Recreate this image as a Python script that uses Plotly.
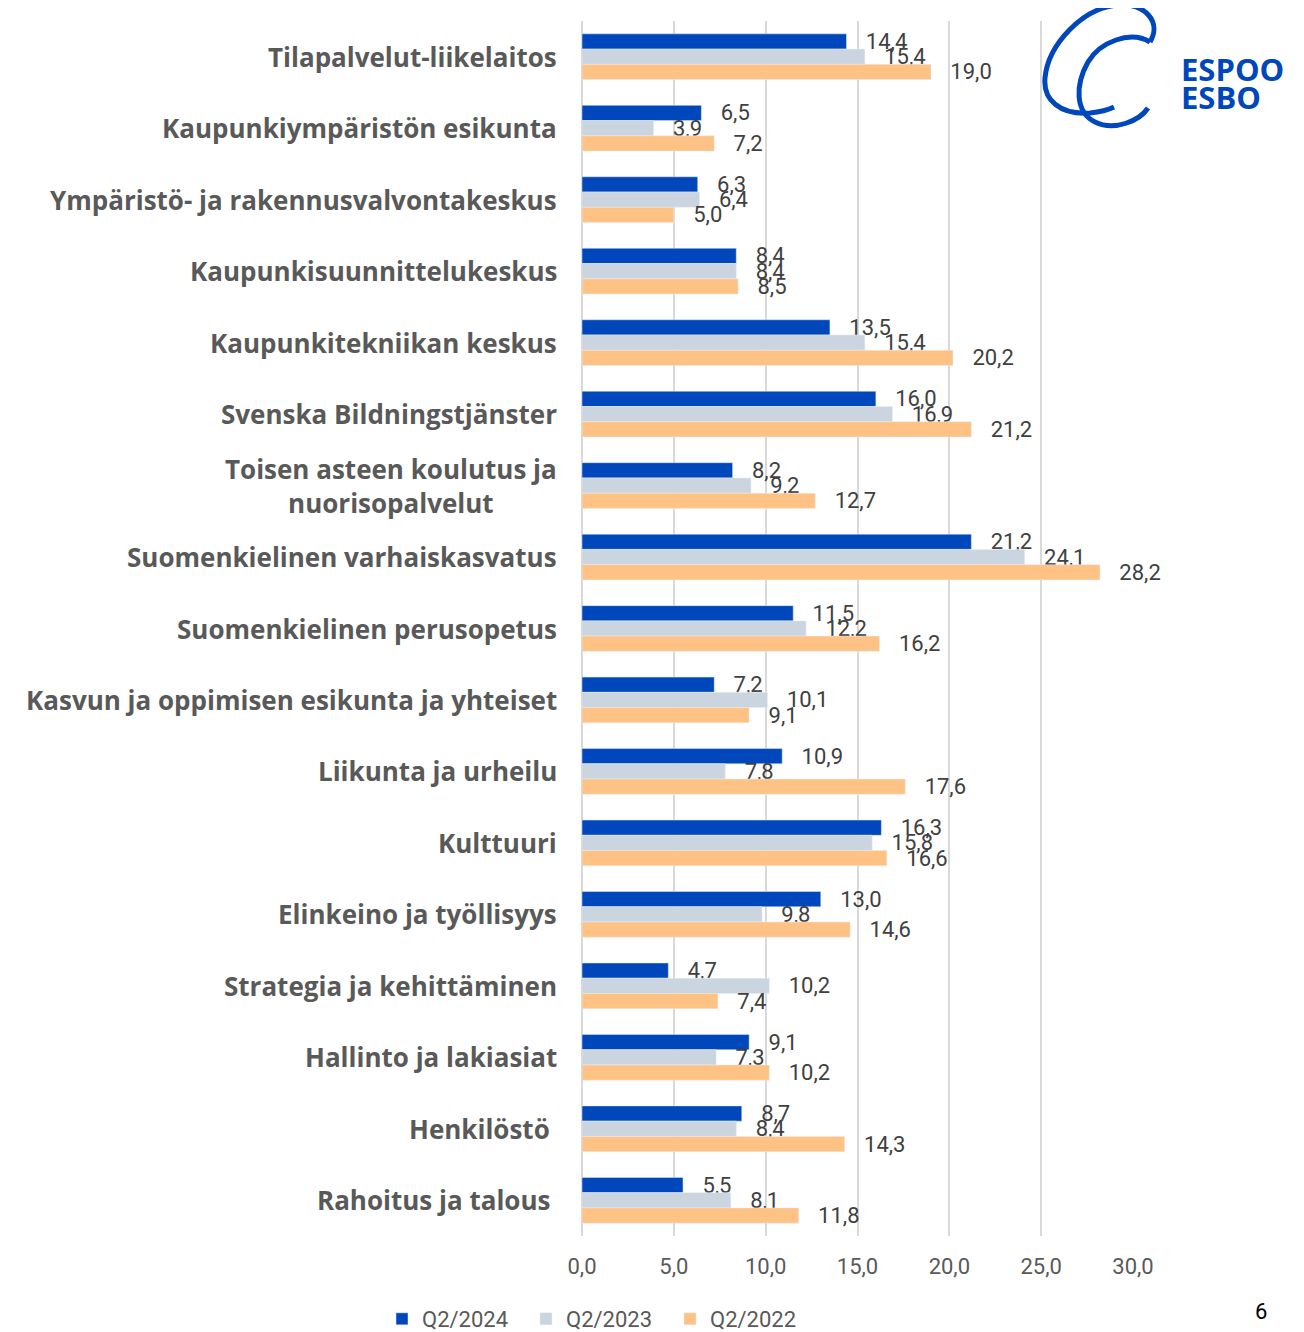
import plotly.graph_objects as go

categories = [
    "Tilapalvelut-liikelaitos",
    "Kaupunkiympäristön esikunta",
    "Ympäristö- ja rakennusvalvontakeskus",
    "Kaupunkisuunnittelukeskus",
    "Kaupunkitekniikan keskus",
    "Svenska Bildningstjänster",
    "Toisen asteen koulutus ja<br>nuorisopalvelut",
    "Suomenkielinen varhaiskasvatus",
    "Suomenkielinen perusopetus",
    "Kasvun ja oppimisen esikunta ja yhteiset",
    "Liikunta ja urheilu",
    "Kulttuuri",
    "Elinkeino ja työllisyys",
    "Strategia ja kehittäminen",
    "Hallinto ja lakiasiat",
    "Henkilöstö\u00a0",
    "Rahoitus ja talous\u00a0",
]
q2_2024 = [14.4, 6.5, 6.3, 8.4, 13.5, 16.0, 8.2, 21.2, 11.5, 7.2, 10.9, 16.3, 13.0, 4.7, 9.1, 8.7, 5.5]
q2_2023 = [15.4, 3.9, 6.4, 8.4, 15.4, 16.9, 9.2, 24.1, 12.2, 10.1, 7.8, 15.8, 9.8, 10.2, 7.3, 8.4, 8.1]
q2_2022 = [19.0, 7.2, 5.0, 8.5, 20.2, 21.2, 12.7, 28.2, 16.2, 9.1, 17.6, 16.6, 14.6, 7.4, 10.2, 14.3, 11.8]
x_ticks = [0, 5, 10, 15, 20, 25, 30]

series = [
    ("Q2/2024", q2_2024, "#0047BB"),
    ("Q2/2023", q2_2023, "#CBD5DF"),
    ("Q2/2022", q2_2022, "#FFC285"),
]

# the page body has an 8px margin, so work in page pixels and shift
OFF = 8
W, H = 1304 - OFF, 1332 - OFF
L, R, T, B = 582 - OFF, 1133 - OFF, 21 - OFF, 1236 - OFF


def paper_x(px):
    return (px - OFF - L) / (R - L)


def paper_y(py):
    return (B - (py - OFF)) / (B - T)


fig = go.Figure()
for name, vals, colour in series:
    fig.add_trace(
        go.Bar(
            y=categories,
            x=vals,
            name=name,
            orientation="h",
            marker_color=colour,
            text=vals,
            texttemplate="\u00a0\u00a0\u00a0%{x:.1f}",
            textposition="outside",
            constraintext="none",
            cliponaxis=False,
            textfont=dict(family="Roboto, Arial, sans-serif", size=22, color="#404040"),
        )
    )

# category labels as annotations so that wrapped lines are centred
for cat in categories:
    fig.add_annotation(
        x=paper_x(559),
        xref="paper",
        y=cat,
        yref="y",
        text="<b>" + cat + "</b>",
        showarrow=False,
        xanchor="right",
        align="center",
        font=dict(family="Open Sans, Arial, sans-serif", size=26, color="#595959"),
    )

# Espoo logo (page pixel coordinates)
logo_paths = [
    [("M", [(1150, 42)]),
     ("C", [(1162, 22), (1145, 3), (1118, 5)]),
     ("C", [(1082, 8), (1048, 45), (1045, 78)]),
     ("C", [(1043, 100), (1060, 115), (1090, 113)]),
     ("C", [(1100, 112), (1108, 110), (1114, 107)])],
    [("M", [(1150, 42)]),
     ("C", [(1130, 30), (1100, 42), (1088, 62)]),
     ("C", [(1075, 85), (1075, 112), (1095, 122)]),
     ("C", [(1115, 132), (1140, 120), (1148, 108)])],
]
for segs in logo_paths:
    path = " ".join(
        cmd + " " + " ".join("%.5f,%.5f" % (paper_x(x), paper_y(y)) for x, y in pts)
        for cmd, pts in segs
    )
    fig.add_shape(
        type="path",
        path=path,
        xref="paper",
        yref="paper",
        line=dict(color="#0047BB", width=5),
    )
for txt, py in [("ESPOO", 69), ("ESBO", 97)]:
    fig.add_annotation(
        x=paper_x(1179),
        y=paper_y(py),
        xref="paper",
        yref="paper",
        text="<b>" + txt + "</b>",
        showarrow=False,
        xanchor="left",
        yanchor="middle",
        font=dict(family="Open Sans, Arial, sans-serif", size=31, color="#0047BB"),
    )

fig.add_annotation(
    x=paper_x(1261),
    y=paper_y(1312),
    xref="paper",
    yref="paper",
    text="6",
    showarrow=False,
    xanchor="center",
    yanchor="middle",
    font=dict(family="Roboto, Arial, sans-serif", size=22, color="#000000"),
)

fig.update_layout(
    width=W,
    height=H,
    barmode="group",
    bargap=0.36,
    bargroupgap=0,
    separators=", ",
    paper_bgcolor="white",
    plot_bgcolor="white",
    margin=dict(l=L, r=W - R, t=T, b=H - B, autoexpand=False),
    showlegend=True,
    legend=dict(
        orientation="h",
        x=paper_x(382),
        xanchor="left",
        y=paper_y(1319),
        yanchor="middle",
        itemwidth=30,
        entrywidth=99,
        entrywidthmode="pixels",
        font=dict(family="Liberation Sans Narrow, Roboto, sans-serif", size=22, color="#595959"),
    ),
)
fig.update_xaxes(
    range=[0, 30],
    tickvals=x_ticks,
    tickformat=".1f",
    showgrid=True,
    gridcolor="#D9D9D9",
    gridwidth=2,
    zeroline=True,
    zerolinecolor="#D9D9D9",
    zerolinewidth=2,
    ticks="outside",
    ticklen=11,
    tickcolor="rgba(0,0,0,0)",
    tickfont=dict(family="Liberation Sans Narrow, Roboto, sans-serif", size=22, color="#595959"),
)
fig.update_yaxes(autorange="reversed", showticklabels=False, showgrid=False)

fig.write_html("out.html")
